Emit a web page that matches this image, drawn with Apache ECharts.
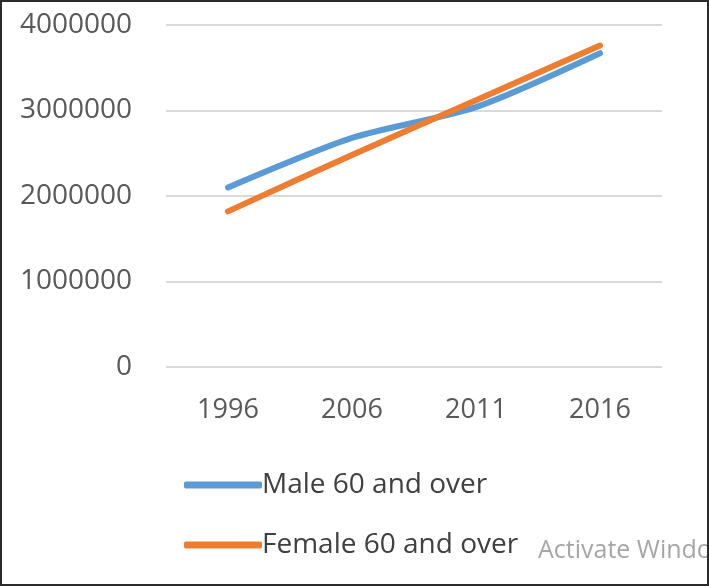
<!DOCTYPE html>
<html><head><meta charset="utf-8">
<script src="https://cdn.jsdelivr.net/npm/echarts@6/dist/echarts.min.js"></script>
<style>
html,body{margin:0;padding:0;background:#fff;}
#wrap{position:relative;width:709px;height:586px;}
#c{position:absolute;left:0;top:0;width:709px;height:586px;}
#b{position:absolute;left:0;top:0;width:709px;height:586px;box-sizing:border-box;border:2px solid #2b2b2b;pointer-events:none;}
</style></head>
<body><div id="wrap"><div id="c"></div><div id="b"></div></div>
<script>
var categories = ['1996', '2006', '2011', '2016'];
var maleValues = [2100000, 2680000, 3040000, 3670000];
var femaleValues = [1820000, 2480000, 3120000, 3760000];
var seriesNames = ['Male 60 and over', 'Female 60 and over'];

var chart = echarts.init(document.getElementById('c'), null, {renderer: 'canvas'});
var font = '"Open Sans", "Liberation Sans", sans-serif';
chart.setOption({
  animation: false,
  backgroundColor: '#fff',
  grid: {left: 166, top: 25, width: 496, bottom: 219, containLabel: false},
  xAxis: {
    type: 'category', data: categories, boundaryGap: true,
    axisLine: {show: false}, axisTick: {show: false},
    axisLabel: {color: '#595959', fontSize: 27, fontFamily: font, margin: 30}
  },
  yAxis: {
    type: 'value', min: 0, max: 4000000, interval: 1000000,
    axisLine: {show: false}, axisTick: {show: false},
    splitLine: {lineStyle: {color: '#d9d9d9', width: 2}},
    axisLabel: {color: '#595959', fontSize: 28, fontFamily: font, margin: 34,
      formatter: function (v) { return String(v); }}
  },
  legend: {
    orient: 'vertical', left: 179, top: 464, itemGap: 28,
    itemWidth: 78, itemHeight: 7, icon: 'roundRect',
    textStyle: {color: '#404040', fontSize: 28, fontFamily: font, lineHeight: 32, padding: [0,0,0,-5]},
    data: seriesNames
  },
  graphic: [{
    type: 'text', left: 538, top: 538,
    style: {text: 'Activate Windows', fill: '#a6a6a6', font: '25px "Open Sans", sans-serif'}
  }],
  series: [
    {name: seriesNames[0], type: 'line', data: maleValues, smooth: 0.25, symbol: 'none',
     lineStyle: {color: '#5b9bd5', width: 6, cap: 'round', join: 'round'}, itemStyle: {color: '#5b9bd5'}},
    {name: seriesNames[1], type: 'line', data: femaleValues, smooth: 0.25, symbol: 'none',
     lineStyle: {color: '#ed7d31', width: 6, cap: 'round', join: 'round'}, itemStyle: {color: '#ed7d31'}}
  ]
});
</script></body></html>
